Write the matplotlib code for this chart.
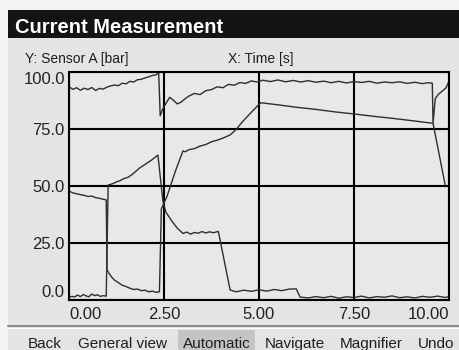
import matplotlib.pyplot as plt
from matplotlib.patches import Rectangle

plt.rcParams['font.family'] = ['Liberation Sans', 'DejaVu Sans']

# ---- data (time in s, pressure in bar) ----
t_top = [0.00, 0.10, 0.20, 0.30, 0.40, 0.50, 0.60, 0.70, 0.80, 0.90,
         1.00, 1.10, 1.20, 1.30, 1.40, 1.50, 1.60, 1.70, 1.80, 1.90,
         2.00, 2.10, 2.20, 2.30, 2.36, 2.40, 2.46, 2.55, 2.65, 2.75,
         2.85, 2.95, 3.05, 3.15, 3.30, 3.45, 3.60, 3.75, 3.90, 4.05,
         4.20, 4.35, 4.50, 4.65, 4.80, 4.95, 5.10, 5.30, 5.50, 5.70,
         5.90, 6.10, 6.30, 6.50, 6.70, 6.90, 7.10, 7.30, 7.50, 7.70,
         7.90, 8.10, 8.30, 8.50, 8.70, 8.90, 9.10, 9.30, 9.45, 9.56,
         9.58, 9.64, 9.72, 9.82, 9.92, 10.00]
p_top = [93.6, 92.4, 93.1, 92.0, 92.9, 92.3, 93.2, 91.9, 92.8, 92.5,
         93.4, 93.9, 94.3, 94.0, 95.1, 94.8, 95.9, 95.6, 96.6, 96.8,
         97.4, 97.9, 98.5, 98.8, 99.9, 80.8, 83.6, 86.2, 88.9, 87.6,
         86.0, 86.8, 88.2, 89.4, 90.6, 90.1, 91.8, 92.3, 93.5, 93.1,
         94.6, 94.2, 95.4, 95.0, 96.1, 95.6, 96.4, 95.8, 96.5, 95.7,
         96.3, 95.6, 96.2, 95.5, 96.0, 95.3, 95.9, 95.2, 95.8, 95.4,
         95.9, 95.1, 95.6, 95.3, 95.7, 95.0, 95.5, 94.9, 95.3, 95.1,
         77.6, 88.4, 90.2, 91.6, 93.0, 96.0]

t_mid = [0.00, 0.10, 0.20, 0.30, 0.40, 0.50, 0.60, 0.70, 0.80, 0.90,
         0.98, 1.00, 1.05, 1.12, 1.20, 1.30, 1.40, 1.50, 1.60, 1.70,
         1.80, 1.90, 2.00, 2.10, 2.20, 2.30, 2.35, 2.38, 2.43, 2.58,
         2.70, 2.80, 2.90, 3.00, 3.06, 3.15, 3.30, 3.45, 3.60, 3.75,
         3.90, 4.05, 4.24, 4.40, 4.55, 4.70, 4.85, 5.00, 5.05, 5.50,
         6.00, 6.50, 7.00, 7.50, 8.00, 8.50, 9.00, 9.58, 9.90]
p_mid = [47.8, 47.0, 46.6, 46.2, 45.9, 45.4, 45.6, 44.9, 44.6, 44.2,
         43.9, 13.2, 11.8, 10.1, 8.7, 7.6, 6.5, 5.9, 5.2, 4.6,
         4.8, 4.1, 4.3, 3.6, 3.9, 3.3, 3.6, 3.6, 40.0, 45.5,
         51.5, 56.5, 61.0, 65.4, 65.0, 65.9, 66.4, 67.5, 68.2, 69.4,
         70.1, 71.0, 72.4, 74.8, 77.9, 80.6, 83.2, 85.8, 86.5, 85.6,
         84.5, 83.6, 82.5, 81.6, 80.6, 79.7, 78.7, 77.5, 50.4]

t_low = [0.00, 0.08, 0.15, 0.22, 0.30, 0.38, 0.45, 0.52, 0.60, 0.68,
         0.75, 0.82, 0.90, 0.98, 1.03, 1.15, 1.25, 1.35, 1.45, 1.55,
         1.65, 1.75, 1.85, 1.95, 2.05, 2.15, 2.25, 2.34, 2.47, 2.55,
         2.70, 2.85, 3.00, 3.10, 3.20, 3.30, 3.40, 3.50, 3.60, 3.70,
         3.80, 3.93, 4.24, 4.40, 4.60, 4.80, 5.00, 5.20, 5.40, 5.60,
         5.80, 5.98, 6.08, 6.30, 6.50, 6.70, 6.90, 7.10, 7.30, 7.50,
         7.70, 7.90, 8.10, 8.30, 8.50, 8.70, 8.90, 9.10, 9.30, 9.50,
         9.70, 9.90, 9.98]
p_low = [1.2, 1.6, 1.3, 2.2, 1.5, 2.4, 1.8, 1.4, 2.6, 1.9,
         2.3, 1.6, 1.9, 1.7, 50.4, 51.0, 51.8, 52.4, 53.3, 53.8,
         54.9, 56.3, 57.8, 58.9, 60.0, 61.1, 62.4, 63.6, 43.5, 38.5,
         34.8, 31.5, 29.2, 29.8, 28.9, 29.6, 29.3, 30.0, 29.4, 29.9,
         29.5, 30.1, 4.4, 3.6, 4.3, 3.8, 4.5, 3.9, 4.6, 4.1,
         4.8, 4.9, 1.3, 0.9, 1.5, 1.0, 1.6, 0.8, 1.4, 1.1,
         1.7, 0.9, 1.5, 1.2, 1.8, 1.0, 1.4, 0.9, 1.6, 1.2,
         1.7, 1.1, 1.4]

x_ticks = [0, 2.5, 5, 7.5, 10]
x_tick_labels = ['0.00', '2.50', '5.00', '7.50', '10.00']
y_ticks = [0, 25, 50, 75, 100]
y_tick_labels = ['0.0', '25.0', '50.0', '75.0', '100.0']
buttons = ['Back', 'General view', 'Automatic', 'Navigate', 'Magnifier', 'Undo']

# ---- layout (pixels of the 459x350 image) ----
W, H = 459, 350
button_x = [28, 78, 183, 265, 340, 418]


def fx(px):
    return px / W


def fy(py):
    return 1 - py / H


fig = plt.figure(figsize=(W / 100, H / 100), dpi=100)
fig.patch.set_facecolor('#f4f4f4')

# grey window panel and black title bar
fig.add_artist(Rectangle((fx(8), 0), 1 - fx(8), fy(10), transform=fig.transFigure,
                         facecolor='#e4e4e4', edgecolor='none', zorder=0))
fig.add_artist(Rectangle((fx(8), fy(38)), 1 - fx(8), 28 / H, transform=fig.transFigure,
                         facecolor='#141414', edgecolor='none', zorder=1))
fig.text(fx(15), fy(33), 'Current Measurement', color='white', fontsize=14.5,
         fontweight='bold', va='baseline', ha='left')

fig.text(fx(25), fy(63), 'Y: Sensor A [bar]', color='#1e1e1e', fontsize=10, va='baseline')
fig.text(fx(228), fy(63), 'X: Time [s]', color='#1e1e1e', fontsize=10, va='baseline')

# plot area
ax = fig.add_axes([fx(69), 50 / H, 380 / W, 228 / H])
ax.set_facecolor('#e8e8e8')
for t, p in [(t_top, p_top), (t_mid, p_mid), (t_low, p_low)]:
    ax.plot(t, p, color='#2e2e2e', lw=1.0)

ax.set_xlim(0, 10)
ax.set_ylim(0, 100)
ax.set_xticks(x_ticks, x_tick_labels)
ax.set_yticks(y_ticks, y_tick_labels)
ax.tick_params(length=0, labelsize=12, labelcolor='#222222')
ax.tick_params(axis='x', pad=5)
ax.tick_params(axis='y', pad=3)
ax.set_axisbelow(True)
ax.grid(True, color='black', lw=1.5)
for s in ax.spines.values():
    s.set_color('black')
    s.set_linewidth(1.5)

xl = ax.get_xticklabels()
xl[0].set_ha('left')
xl[-1].set_ha('right')
yl = ax.get_yticklabels()
yl[0].set_va('bottom')
yl[-1].set_va('top')

# separator and button bar
fig.add_artist(plt.Line2D([fx(8), 1], [fy(326), fy(326)], transform=fig.transFigure,
                          color='#7a7a7a', lw=1.2))
fig.add_artist(plt.Line2D([fx(8), 1], [fy(328), fy(328)], transform=fig.transFigure,
                          color='#fafafa', lw=0.8))
fig.add_artist(Rectangle((fx(178), 0), 77 / W, fy(330), transform=fig.transFigure,
                         facecolor='#c4c4c4', edgecolor='none', zorder=1))
for name, bx in zip(buttons, button_x):
    fig.text(fx(bx), fy(348), name, color='#1e1e1e', fontsize=11, va='baseline',
             ha='left', zorder=2)

fig.savefig('out.png', dpi=100, facecolor=fig.get_facecolor())
